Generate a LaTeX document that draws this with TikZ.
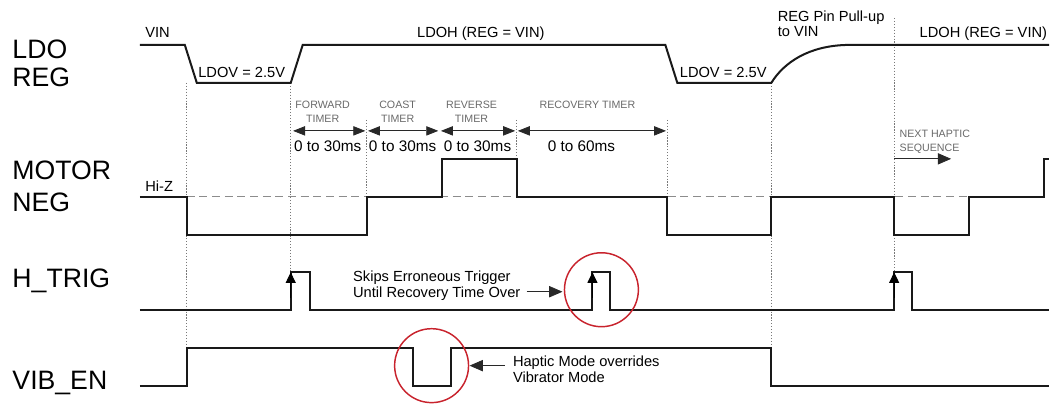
\documentclass[tikz,border=0pt]{standalone}
\usepackage{fontspec}
\setmainfont{Liberation Sans}
\usetikzlibrary{arrows.meta}

\tikzset{every picture/.style={line width=0.75pt}}
\tikzset{
  wave/.style={color={rgb, 255:red, 25; green, 25; blue, 25 }, line width=1.5, line join=miter},
  guide/.style={color={rgb, 255:red, 120; green, 120; blue, 120 }, line width=0.5, dash pattern={on 0.9pt off 1.3pt}},
  hiz/.style={color={rgb, 255:red, 140; green, 140; blue, 140 }, line width=0.75, dash pattern={on 6pt off 3.5pt}},
  timer/.style={color={rgb, 255:red, 40; green, 40; blue, 40 }, line width=0.6, shorten <=1, shorten >=1,
    {Triangle[length=9pt,width=7pt]}-{Triangle[length=9pt,width=7pt]}},
  pointer/.style={color={rgb, 255:red, 40; green, 40; blue, 40 }, line width=0.6, -{Triangle[length=10pt,width=8.5pt]}},
  trig/.style={line width=0.75, -{Triangle[length=8pt,width=7.5pt]}},
  ring/.style={color={rgb, 255:red, 200; green, 35; blue, 45 }, line width=1.1},
  signame/.style={anchor=base west, inner sep=0, font=\fontsize{20}{24}\selectfont},
  note/.style={anchor=base west, inner sep=0, font=\fontsize{11}{13}\selectfont},
  span/.style={anchor=base, inner sep=0, font=\fontsize{11.5}{13}\selectfont},
  caps/.style={anchor=base, inner sep=0, font=\fontsize{8}{10}\selectfont, text={rgb, 255:red, 105; green, 105; blue, 105 }},
}

\begin{document}
\begin{tikzpicture}[x=0.75pt,y=0.75pt,yscale=-1,xscale=1]
\path (0,0) rectangle (1050,408); %set diagram size 1050 x 408

%Vertical guides
\draw [guide] (187,83) -- (187,386) ;
\draw [guide] (291,83) -- (291,272) ;
\draw [guide] (367,120) -- (367,197) ;
\draw [guide] (517,120) -- (517,159) ;
\draw [guide] (668,120) -- (668,197) ;
\draw [guide] (772,83) -- (772,348) ;
\draw [guide] (895,18) -- (895,272) ;

%Hi-Z level
\draw [hiz] (187,197) -- (1045,197) ;

%Waveform: LDO REG
\draw [wave] (140,45) -- (185,45) -- (197,83) -- (291,83) -- (303,45) -- (666,45) -- (678,83) -- (772,83) .. controls (785,62) and (810,46) .. (847,45) -- (1050,45) ;
%Waveform: MOTOR NEG
\draw [wave] (140,197) -- (187,197) -- (187,235) -- (367,235) -- (367,197) -- (442,197) -- (442,159) -- (517,159) -- (517,197) -- (668,197) -- (668,235) -- (772,235) -- (772,197) -- (895,197) -- (895,235) -- (970,235) -- (970,197) -- (1045,197) -- (1045,159) -- (1050,159) ;
%Waveform: H_TRIG
\draw [wave] (140,310) -- (291,310) -- (291,272) -- (310,272) -- (310,310) -- (593,310) -- (593,272) -- (611,272) -- (611,310) -- (895,310) -- (895,272) -- (913,272) -- (913,310) -- (1050,310) ;
\draw [trig] (291,298) -- (291,272.5) ;
\draw [trig] (593,298) -- (593,272.5) ;
\draw [trig] (895,298) -- (895,272.5) ;
%Waveform: VIB_EN
\draw [wave] (140,386) -- (187,386) -- (187,348) -- (413,348) -- (413,386) -- (451,386) -- (451,348) -- (772,348) -- (772,386) -- (1050,386) ;

%Timer spans
\coordinate (tfwd) at (292,131) ;
\coordinate (tcoast) at (367,131) ;
\coordinate (trev) at (440,131) ;
\coordinate (trec) at (517,131) ;
\coordinate (tend) at (668,131) ;
\draw [timer] (tfwd) -- (tcoast) ;
\draw [timer] (tcoast) -- (trev) ;
\draw [timer] (trev) -- (trec) ;
\draw [timer] (trec) -- (tend) ;

%Pointers
\coordinate (nextfrom) at (895,159) ;
\coordinate (nextto) at (952,159) ;
\draw [pointer] (nextfrom) -- (nextto) ;
\coordinate (skipfrom) at (527,292) ;
\coordinate (skipto) at (563,292) ;
\draw [pointer] (skipfrom) -- (skipto) ;
\coordinate (hapfrom) at (505,366) ;
\coordinate (hapto) at (470,366) ;
\draw [pointer] (hapfrom) -- (hapto) ;

%Shape: Circle
\draw [ring] (602,290) circle (37) ;
%Shape: Circle
\draw [ring] (432,366) circle (37) ;

% Text Node
\draw (12,59) node (ldo) [signame] {LDO};
% Text Node
\draw (12,87) node (reg) [signame] {REG};
% Text Node
\draw (12,180) node (motor) [signame] {MOTOR};
% Text Node
\draw (12,212) node (neg) [signame] {NEG};
% Text Node
\draw (12,288) node (htrig) [signame] {H\_TRIG};
% Text Node
\draw (12,390) node (viben) [signame] {VIB\_EN};
% Text Node
\draw (145,38) node (vin) [note] {VIN};
% Text Node
\draw (198,78) node (ldova) [note] {LDOV = 2.5V};
% Text Node
\draw (680,78) node (ldovb) [note] {LDOV = 2.5V};
% Text Node
\draw (417,38) node (ldoha) [note] {LDOH (REG = VIN)};
% Text Node
\draw (920,38) node (ldohb) [note] {LDOH (REG = VIN)};
% Text Node
\draw (778,22) node (pullup) [note] {REG Pin Pull-up};
% Text Node
\draw (778,37) node (tovin) [note] {to VIN};
% Text Node
\draw (145,192) node (hiz) [note] {Hi-Z};
% Text Node
\draw (353,282) node (skipa) [note] {Skips Erroneous Trigger};
% Text Node
\draw (353,298) node (skipb) [note] {Until Recovery Time Over};
% Text Node
\draw (513,367) node (hapa) [note] {Haptic Mode overrides};
% Text Node
\draw (513,383) node (hapb) [note] {Vibrator Mode};
% Text Node
\draw (328,152) node (fwdms) [span] {0 to 30ms};
% Text Node
\draw (403,152) node (coastms) [span] {0 to 30ms};
% Text Node
\draw (478,152) node (revms) [span] {0 to 30ms};
% Text Node
\draw (582,152) node (recms) [span] {0 to 60ms};
% Text Node
\draw (323,109) node (fwda) [caps] {FORWARD};
% Text Node
\draw (323,123) node (fwdb) [caps] {TIMER};
% Text Node
\draw (398,109) node (coasta) [caps] {COAST};
% Text Node
\draw (398,123) node (coastb) [caps] {TIMER};
% Text Node
\draw (472,109) node (reva) [caps] {REVERSE};
% Text Node
\draw (472,123) node (revb) [caps] {TIMER};
% Text Node
\draw (588,109) node (reca) [caps] {RECOVERY TIMER};
% Text Node
\draw (900,138) node (nexta) [caps, anchor=base west] {NEXT HAPTIC};
% Text Node
\draw (900,152) node (nextb) [caps, anchor=base west] {SEQUENCE};

\end{tikzpicture}
\end{document}
